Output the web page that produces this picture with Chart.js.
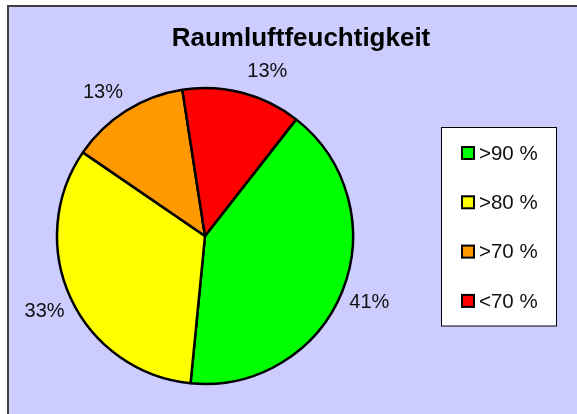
<!DOCTYPE html>
<html>
<head>
<meta charset="utf-8">
<script src="https://cdn.jsdelivr.net/npm/chart.js@4"></script>
<style>
html, body { margin: 0; padding: 0; background: #fff; }
canvas { display: block; }
</style>
</head>
<body>
<canvas id="myChart" width="577" height="414"></canvas>
<script>
const chartTitle = "Raumluftfeuchtigkeit";
const labels = [">90 %", ">80 %", ">70 %", "<70 %"];
const values = [41, 33, 13, 13];
const colors = ["#00ff00", "#ffff00", "#ff9900", "#ff0000"];

const FONT = '"Liberation Sans", Arial, sans-serif';

// background frame like the Excel chart area
const framePlugin = {
  id: 'frame',
  beforeDraw(chart) {
    const c = chart.ctx;
    c.save();
    c.fillStyle = '#fff';
    c.fillRect(0, 0, chart.width, chart.height);
    c.fillStyle = '#ccccff';
    c.fillRect(8, 6, chart.width, chart.height);
    c.strokeStyle = '#404040';
    c.lineWidth = 2;
    c.strokeRect(8, 6, chart.width + 10, chart.height + 10);
    c.restore();
  }
};

const titlePlugin = {
  id: 'bigTitle',
  afterDraw(chart) {
    const c = chart.ctx;
    c.save();
    c.font = 'bold 26px ' + FONT;
    c.fillStyle = '#000';
    c.textAlign = 'center';
    c.textBaseline = 'alphabetic';
    c.fillText(chartTitle, 301, 46);
    c.restore();
  }
};

// percent labels outside the slices
const pctPlugin = {
  id: 'pct',
  afterDatasetsDraw(chart, args, opts) {
    const c = chart.ctx;
    const meta = chart.getDatasetMeta(0);
    const total = values.reduce((a, b) => a + b, 0);
    c.save();
    c.font = '20px ' + FONT;
    c.fillStyle = '#111';
    c.textAlign = 'center';
    c.textBaseline = 'middle';
    meta.data.forEach((arc, i) => {
      const p = arc.getProps(['x', 'y', 'startAngle', 'endAngle', 'outerRadius'], true);
      const mid = (p.startAngle + p.endAngle) / 2 + (opts.shift[i] || 0) * Math.PI / 180;
      const r = p.outerRadius + opts.gap;
      const txt = Math.round(values[i] / total * 100) + '%';
      c.fillText(txt, p.x + Math.cos(mid) * r, p.y + Math.sin(mid) * r + 1);
    });
    c.restore();
  }
};

const legendPlugin = {
  id: 'boxLegend',
  afterDraw(chart) {
    const c = chart.ctx;
    c.save();
    c.fillStyle = '#fff';
    c.fillRect(442, 128, 115, 198);
    c.strokeStyle = '#000';
    c.lineWidth = 1;
    c.strokeRect(441.5, 127.5, 115, 198.5);
    c.font = '20.5px ' + FONT;
    c.textBaseline = 'middle';
    c.textAlign = 'left';
    labels.forEach((l, i) => {
      const y = 153 + i * 49.3;
      c.fillStyle = colors[i];
      c.fillRect(462, y - 6, 12, 12);
      c.strokeStyle = '#000';
      c.lineWidth = 2;
      c.strokeRect(462, y - 6, 12, 12);
      c.fillStyle = '#111';
      c.fillText(l, 479, y + 1);
    });
    c.restore();
  }
};

const ctx = document.getElementById('myChart').getContext('2d');
const myChart = new Chart(ctx, {
  type: 'pie',
  data: {
    labels: labels,
    datasets: [{
      data: values,
      backgroundColor: colors,
      borderColor: '#000',
      borderWidth: 2.5,
      hoverOffset: 0
    }]
  },
  options: {
    responsive: false,
    animation: false,
    events: [],
    rotation: 38,
    radius: 148,
    layout: { padding: { left: 57, top: 88, right: 224, bottom: 30 } },
    plugins: {
      legend: { display: false },
      title: { display: false },
      tooltip: { enabled: false },
      pct: { gap: 29, shift: [0, 0, -3, 6] }
    }
  },
  plugins: [framePlugin, pctPlugin, titlePlugin, legendPlugin]
});
</script>
</body>
</html>
